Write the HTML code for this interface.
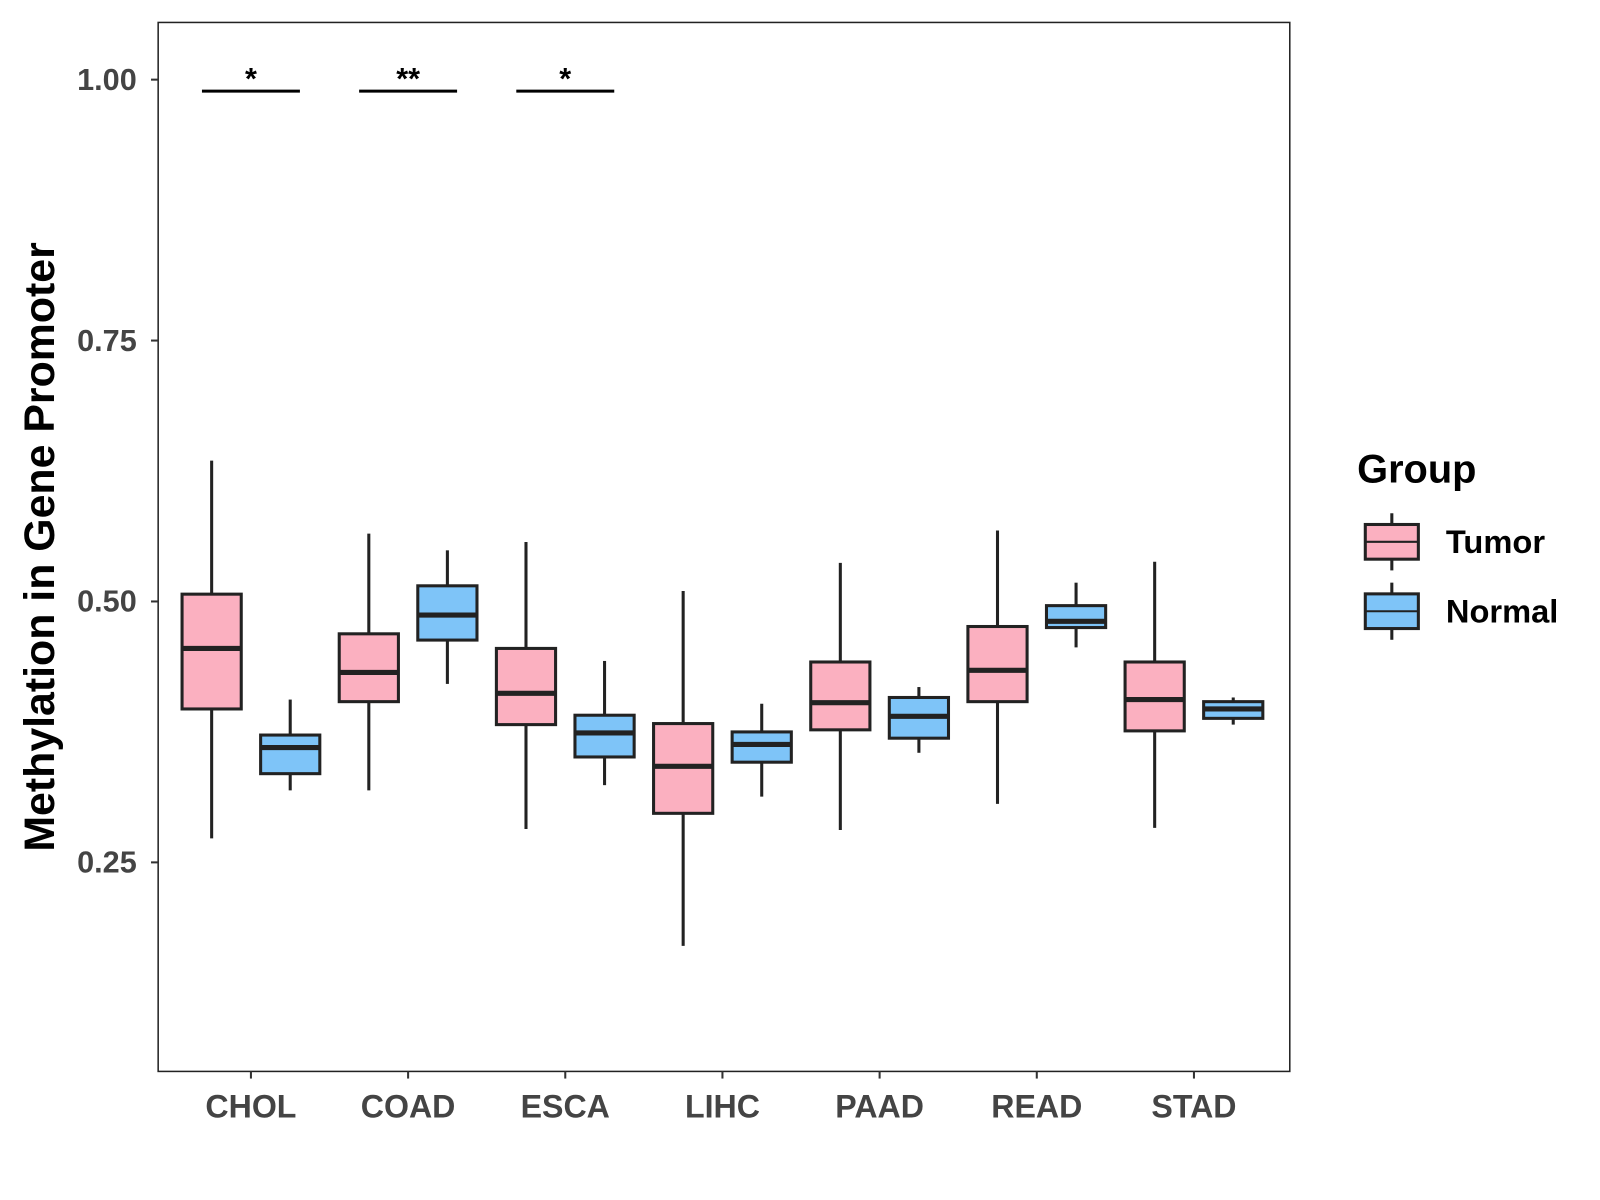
<!DOCTYPE html>
<html><head><meta charset="utf-8"><style>
body{margin:0;background:#fff;font-family:"Liberation Sans",Arial,sans-serif}
svg{display:block}
</style></head><body>
<svg id="c" width="1600" height="1200" viewBox="0 0 1600 1200">
<rect x="0" y="0" width="1600" height="1200" fill="#fff"/>
<g id="plot" transform="scale(1.0204)"></g>
</svg>
<script>
const categories=["CHOL","COAD","ESCA","LIHC","PAAD","READ","STAD"];
// [whiskerLow, Q1, median, Q3, whiskerHigh]
const tumorStats=[[0.273,0.397,0.455,0.507,0.635],[0.319,0.404,0.432,0.469,0.565],[0.282,0.382,0.412,0.455,0.557],[0.170,0.297,0.342,0.383,0.510],[0.281,0.377,0.403,0.442,0.537],[0.306,0.404,0.434,0.476,0.568],[0.283,0.376,0.406,0.442,0.538]];
const normalStats=[[0.319,0.335,0.360,0.372,0.406],[0.421,0.463,0.487,0.515,0.549],[0.324,0.351,0.374,0.391,0.443],[0.313,0.346,0.363,0.375,0.402],[0.355,0.369,0.390,0.408,0.418],[0.456,0.475,0.481,0.496,0.518],[0.382,0.388,0.397,0.404,0.408]];
const yTicks=[0.25,0.50,0.75,1.00];
const yTickLabels=["0.25","0.50","0.75","1.00"];
const sigCategories=["CHOL","COAD","ESCA"];
const sigLabels=["*","**","*"];
const sigLevel=0.989;

const NS="http://www.w3.org/2000/svg";
const g=document.getElementById('plot');
const L=155,R=1264,T=22,B=1050,yMin=0.0497,yMax=1.0548;
const y=v=>B-(v-yMin)/(yMax-yMin)*(B-T);
const step=(R-L)/(categories.length-1+1.2);
const x=i=>L+step*(i+0.6)-1.5;
function el(tag,a,txt){const e=document.createElementNS(NS,tag);for(const k in a)e.setAttribute(k,a[k]);if(txt!==undefined)e.textContent=txt;g.appendChild(e);return e;}

const frame=el('rect',{x:L,y:T,width:R-L,height:B-T,fill:'none',stroke:'#222','stroke-width':1.5});



yTicks.forEach((t,i)=>{
  const tk=el('line',{x1:L-7,x2:L,y1:y(t),y2:y(t),stroke:'#333','stroke-width':2});
  
  
  const lb=el('text',{x:L-21,y:y(t)+10,'text-anchor':'end','font-size':30,'font-weight':'bold',fill:'#444'},yTickLabels[i]);
  
  
});
categories.forEach((c,i)=>{
  const tk=el('line',{x1:x(i),x2:x(i),y1:B,y2:B+7,stroke:'#333','stroke-width':2});
  
  
  const lb=el('text',{x:x(i),y:B+45,'text-anchor':'middle','font-size':31.5,'font-weight':'bold',fill:'#444'},c);
  
  
});
const yt=el('text',{x:0,y:0,transform:'translate(53,536) rotate(-90)','text-anchor':'middle','font-size':42,'font-weight':'bold',fill:'#000'},'Methylation in Gene Promoter');



function box(cx,s,fill,w){
  const gg=document.createElementNS(NS,'g');g.appendChild(gg);
  const a=(t,o)=>{const e=document.createElementNS(NS,t);for(const k in o)e.setAttribute(k,o[k]);gg.appendChild(e);return e;};
  a('line',{x1:cx,x2:cx,y1:y(s[0]),y2:y(s[1]),stroke:'#222','stroke-width':3});
  a('line',{x1:cx,x2:cx,y1:y(s[3]),y2:y(s[4]),stroke:'#222','stroke-width':3});
  a('rect',{x:cx-w/2,y:y(s[3]),width:w,height:y(s[1])-y(s[3]),fill:fill,stroke:'#222','stroke-width':3});
  a('line',{x1:cx-w/2,x2:cx+w/2,y1:y(s[2]),y2:y(s[2]),stroke:'#222','stroke-width':5});
  return gg;
}
categories.forEach((c,i)=>{
  const b1=box(x(i)-38.5,tumorStats[i],'#FBB0C0',58);
  
  
  const b2=box(x(i)+38.5,normalStats[i],'#7EC4F8',58);
  
  
});
sigCategories.forEach((c,j)=>{
  const i=categories.indexOf(c);
  const ln=el('line',{x1:x(i)-48,x2:x(i)+48,y1:y(sigLevel),y2:y(sigLevel),stroke:'#000','stroke-width':3});
  
  
  const st=el('text',{x:x(i),y:y(sigLevel)-2,'text-anchor':'middle','font-size':30,'font-weight':'bold',fill:'#000'},sigLabels[j]);
  
  
});
// legend
const lt=el('text',{x:1330,y:473,'font-size':39,'font-weight':'bold',fill:'#000'},'Group');


[['Tumor','#FBB0C0',531],['Normal','#7EC4F8',599]].forEach(([n,f,cy])=>{
  const k=document.createElementNS(NS,'g');g.appendChild(k);
  const a=(t,o)=>{const e=document.createElementNS(NS,t);for(const q in o)e.setAttribute(q,o[q]);k.appendChild(e);};
  a('line',{x1:1364,x2:1364,y1:cy-28,y2:cy+28,stroke:'#222','stroke-width':3});
  a('rect',{x:1338,y:cy-17,width:52,height:34,fill:f,stroke:'#222','stroke-width':3});
  a('line',{x1:1338,x2:1390,y1:cy,y2:cy,stroke:'#222','stroke-width':2});
  
  
  const t=el('text',{x:1417,y:cy+11,'font-size':32,'font-weight':'bold',fill:'#000'},n);
  
  
});
</script>
</body></html>
